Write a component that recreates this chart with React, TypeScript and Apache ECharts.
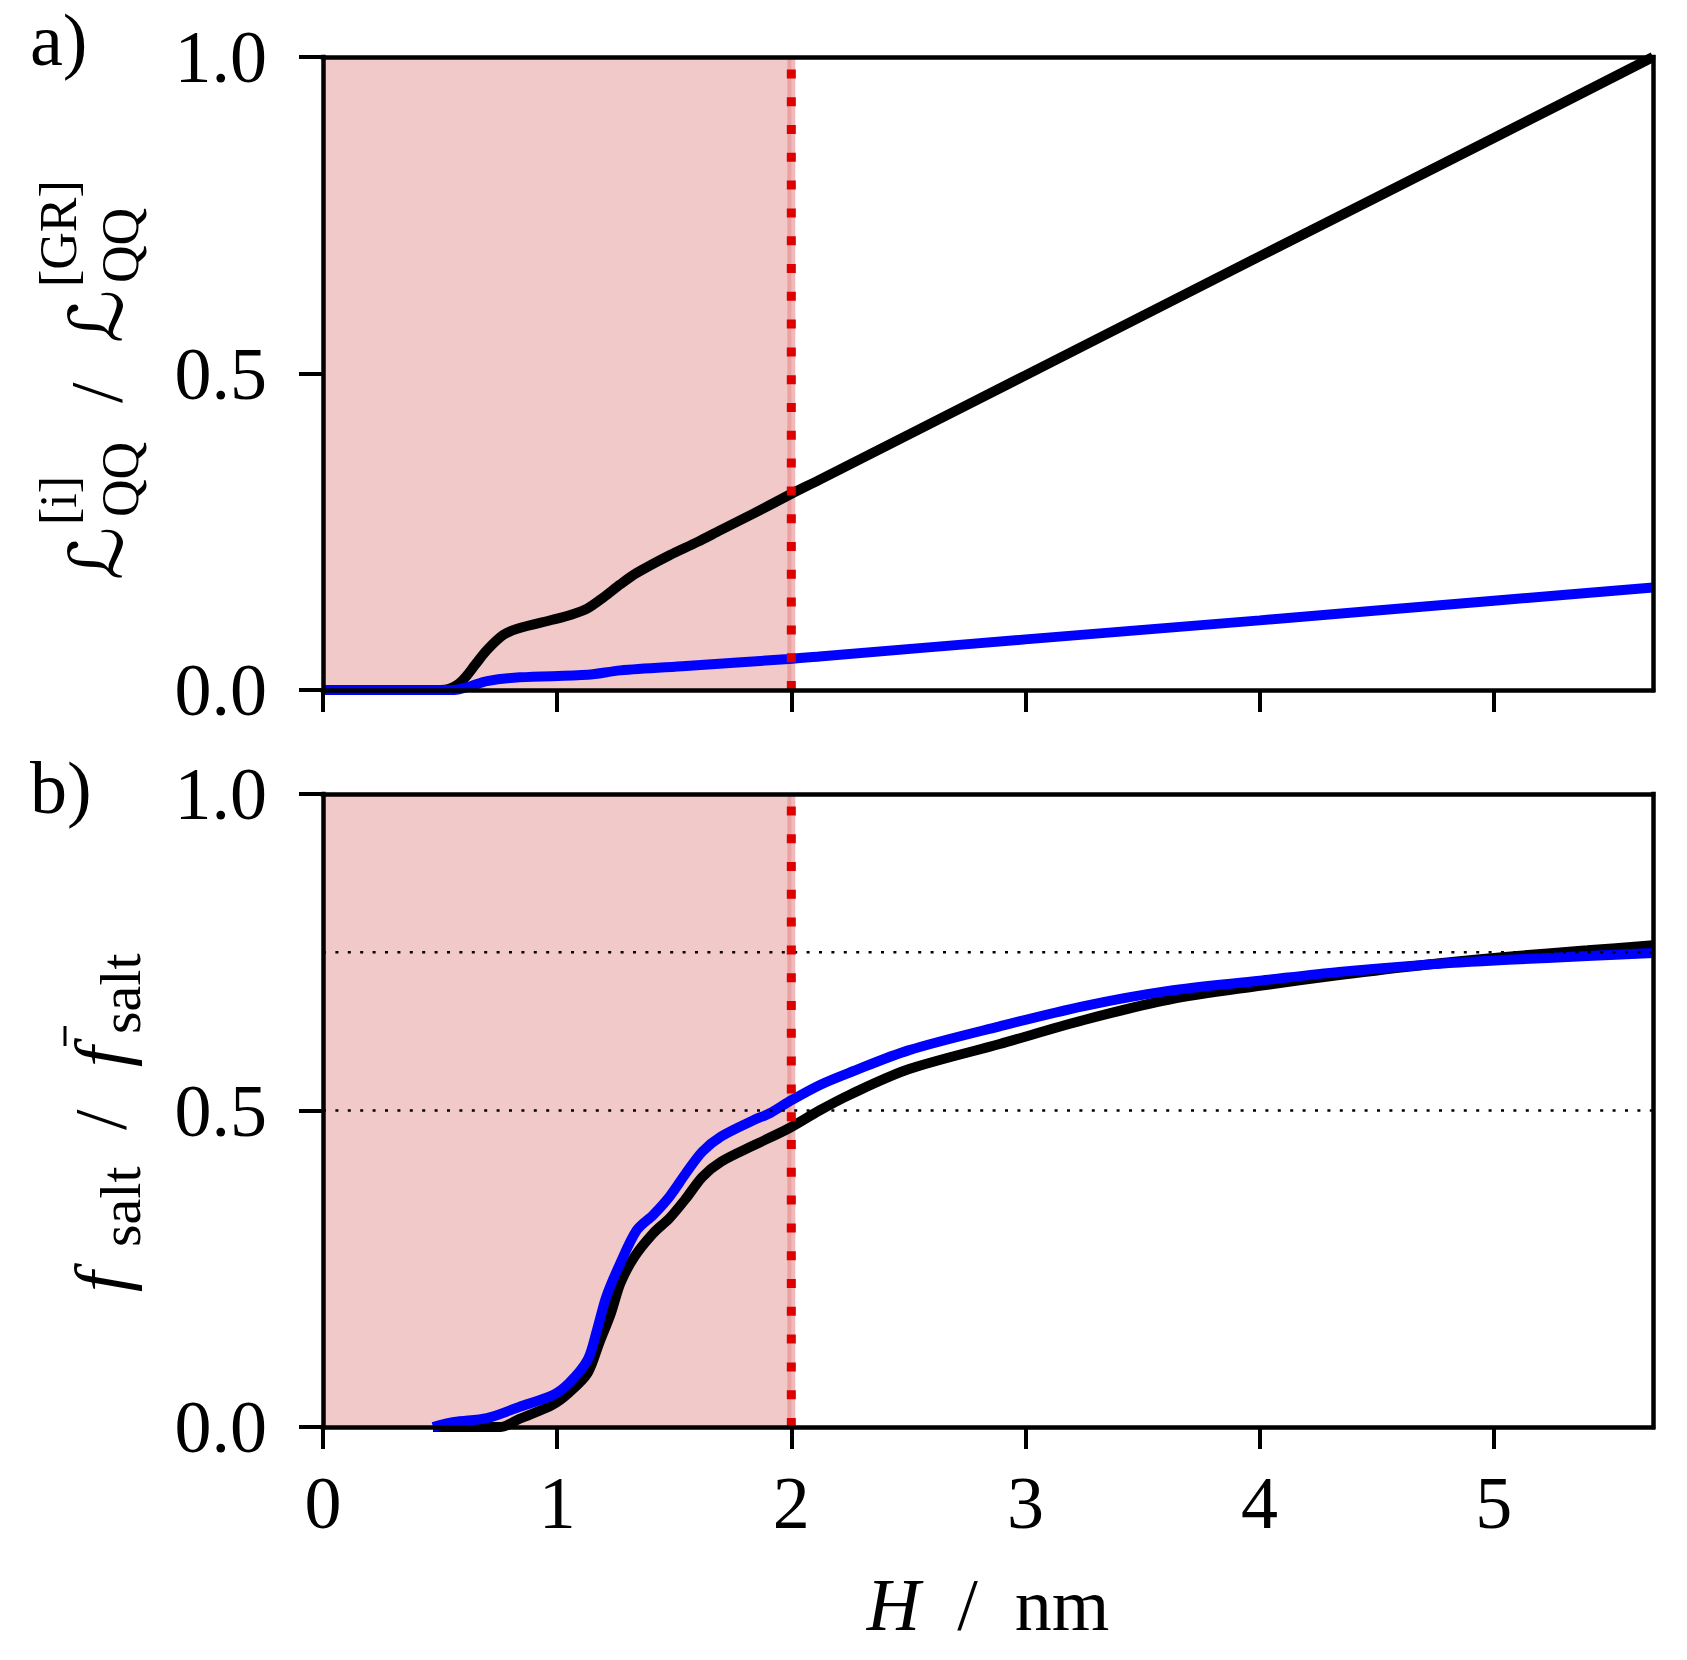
import React, { useEffect, useRef } from 'react';
import * as echarts from 'echarts';

const FONT = "'Liberation Serif', 'Times New Roman', 'DejaVu Serif', 'DejaVu Sans', serif";

// axes
const X_MAX = 5.68;
const xTicks = [0, 1, 2, 3, 4, 5];
const yMin = 0;
const yMax = 1;
const yInterval = 0.5;

// shaded region and reference lines
const shadeX = [0, 2];
const shadeY = [1, 1];
const vLineX = [2, 2];
const vLineY = [0, 1];
const hLinesB = [0.5, 0.75];

// panel a)  L_QQ^[i] / L_QQ^[GR]
const aBlackH = [0, 0.5, 0.54, 0.58, 0.61, 0.65, 0.70, 0.77, 0.84, 0.98, 1.06, 1.13, 1.20, 1.27, 1.34, 1.48, 1.60, 1.70, 1.84, 1.99, 2.12, 3.0, 4.0, 5.0, 5.68];
const aBlackV = [0, 0, 0.002, 0.01, 0.021, 0.04, 0.063, 0.087, 0.098, 0.111, 0.119, 0.129, 0.147, 0.167, 0.185, 0.213, 0.234, 0.253, 0.279, 0.308, 0.332, 0.497, 0.685, 0.872, 1.0];
const aBlueH = [0, 0.56, 0.63, 0.70, 0.84, 1.13, 1.27, 1.55, 1.99, 2.12, 3.0, 4.0, 5.0, 5.68];
const aBlueV = [0, 0, 0.006, 0.014, 0.020, 0.024, 0.031, 0.038, 0.049, 0.053, 0.080, 0.110, 0.141, 0.162];

// panel b)  f_salt / f̄_salt
const bBlackH = [0.47, 0.76, 0.84, 0.98, 1.05, 1.13, 1.18, 1.23, 1.27, 1.33, 1.41, 1.48, 1.55, 1.62, 1.70, 1.84, 1.99, 2.12, 2.25, 2.5, 2.89, 3.25, 3.61, 4.0, 4.34, 4.70, 5.06, 5.4, 5.68];
const bBlackV = [0, 0, 0.013, 0.035, 0.054, 0.085, 0.133, 0.18, 0.227, 0.269, 0.306, 0.330, 0.361, 0.395, 0.419, 0.445, 0.472, 0.50, 0.525, 0.565, 0.605, 0.643, 0.675, 0.697, 0.714, 0.73, 0.743, 0.753, 0.761];
const bBlueH = [0.47, 0.56, 0.70, 0.84, 0.98, 1.05, 1.13, 1.17, 1.21, 1.27, 1.34, 1.41, 1.48, 1.55, 1.62, 1.70, 1.84, 1.91, 1.99, 2.12, 2.25, 2.5, 2.89, 3.25, 3.61, 4.0, 4.34, 4.70, 5.06, 5.4, 5.68];
const bBlueV = [0, 0.008, 0.014, 0.032, 0.050, 0.069, 0.106, 0.153, 0.206, 0.259, 0.311, 0.335, 0.364, 0.401, 0.435, 0.459, 0.485, 0.496, 0.514, 0.540, 0.56, 0.595, 0.633, 0.665, 0.689, 0.705, 0.719, 0.73, 0.738, 0.744, 0.749];

const zip = (xs: number[], ys: number[]) => xs.map((x, i) => [x, ys[i]]);

const spine = { color: '#000', width: 4.5, cap: 'square' as const };

function bottomX(gridIndex: number, showLabels: boolean, withName: boolean) {
  return {
    type: 'value', gridIndex, min: 0, max: X_MAX, position: 'bottom', z: 10,
    axisLine: { show: true, onZero: false, lineStyle: spine },
    axisTick: { show: true, inside: false, length: 22, customValues: xTicks, lineStyle: { color: '#000', width: 4 } },
    axisLabel: {
      show: showLabels, customValues: xTicks, margin: 39, fontSize: 74, fontFamily: FONT, color: '#000',
      formatter: (v: number) => String(v),
    },
    splitLine: { show: false },
    name: withName ? '{it|H}\u2002/\u2002nm' : '',
    nameLocation: 'middle',
    nameGap: 141,
    nameTextStyle: {
      fontSize: 74, fontFamily: FONT, color: '#000', lineHeight: 74,
      rich: { it: { fontSize: 74, fontFamily: FONT, fontStyle: 'italic', color: '#000', lineHeight: 74 } },
    },
  };
}
function topX(gridIndex: number) {
  return {
    type: 'value', gridIndex, min: 0, max: X_MAX, position: 'top', z: 10,
    axisLine: { show: true, onZero: false, lineStyle: spine },
    axisTick: { show: false }, axisLabel: { show: false }, splitLine: { show: false },
  };
}
function leftY(gridIndex: number) {
  return {
    type: 'value', gridIndex, min: yMin, max: yMax, interval: yInterval, position: 'left', z: 10,
    axisLine: { show: true, onZero: false, lineStyle: spine },
    axisTick: { show: true, inside: false, length: 24, lineStyle: { color: '#000', width: 4 } },
    axisLabel: { margin: 56, fontSize: 74, fontFamily: FONT, color: '#000', formatter: (v: number) => v.toFixed(1) },
    splitLine: { show: false },
  };
}
function rightY(gridIndex: number) {
  return {
    type: 'value', gridIndex, min: yMin, max: yMax, position: 'right', z: 10,
    axisLine: { show: true, onZero: false, lineStyle: spine },
    axisTick: { show: false }, axisLabel: { show: false }, splitLine: { show: false },
  };
}

function line(name: string, xi: number, data: number[][], color: string, width: number, z: number, extra: any = {}) {
  return {
    name, type: 'line', xAxisIndex: xi, yAxisIndex: xi, data, z,
    showSymbol: false, symbol: 'none', silent: true, clip: true,
    lineStyle: { color, width, ...(extra.lineStyle || {}) },
    emphasis: { disabled: true },
    ...(extra.smooth !== undefined ? { smooth: extra.smooth } : {}),
    ...(extra.areaStyle ? { areaStyle: extra.areaStyle } : {}),
  };
}

function panelSeries(xi: number, black: number[][], blue: number[][], hLines: number[]) {
  const s: any[] = [];
  s.push(line('shade', xi, zip(shadeX, shadeY), '#f1c9c9', 0, 1, {
    areaStyle: { color: '#f1c9c9', opacity: 1, origin: 'start' },
  }));
  s.push(line('vband', xi, zip(vLineX, vLineY), 'rgba(228,130,130,0.55)', 8, 2));
  s.push(line('black', xi, black, '#000000', 10, 3, { smooth: 0.3 }));
  s.push(line('blue', xi, blue, '#0000ff', 10, 4, { smooth: 0.3 }));
  hLines.forEach((h) => {
    s.push(line('hline', xi, [[0, h], [X_MAX, h]], '#000000', 2.6, 5, { lineStyle: { type: [3, 9.4], cap: 'butt' } }));
  });
  s.push(line('vdot', xi, zip(vLineX, vLineY), '#dd0000', 9, 6, { lineStyle: { type: [9, 18.8], cap: 'butt' } }));
  return s;
}

function txt(text: string, x: number, y: number, fontSize: number, italic = false) {
  return {
    type: 'text', x, y, silent: true,
    style: {
      text, fontSize, fontFamily: FONT, fontStyle: italic ? 'italic' : 'normal', fill: '#000',
      textAlign: 'left', align: 'left', textVerticalAlign: 'middle', verticalAlign: 'middle',
    },
  };
}

const M = 74; // main font
const S = 52; // script font

const labelA = {
  type: 'group', x: 122, y: 580, rotation: Math.PI / 2, silent: true,
  children: [
    txt('ℒ', 0, -25, M),
    txt('QQ', 63, 16 - 0.3375 * S, S),
    txt('[i]', 55, -46 - 0.3375 * S, S),
    txt('/', 177, -25, M),
    txt('ℒ', 237, -25, M),
    txt('QQ', 297, 16 - 0.3375 * S, S),
    txt('[GR]', 293, -46 - 0.3375 * S, S),
  ],
};

const S2 = 58;
const labelB = {
  type: 'group', x: 126, y: 1292, rotation: Math.PI / 2, silent: true,
  children: [
    txt('f', 0, -25, M, true),
    txt('salt', 45, 14 - 0.3375 * S2, S2),
    txt('/', 162, -25, M),
    txt('f', 225, -25, M, true),
    { type: 'line', silent: true, shape: { x1: 246, y1: -61, x2: 266, y2: -61 }, style: { stroke: '#000', lineWidth: 3 } },
    txt('salt', 258, 14 - 0.3375 * S2, S2),
  ],
};

const option: any = {
  animation: false,
  backgroundColor: '#ffffff',
  grid: [
    { left: 323, top: 57, width: 1330, height: 633, containLabel: false },
    { left: 323, top: 794, width: 1330, height: 633, containLabel: false },
  ],
  xAxis: [bottomX(0, false, false), topX(0), bottomX(1, true, true), topX(1)],
  yAxis: [leftY(0), rightY(0), leftY(1), rightY(1)],
  series: [
    ...panelSeries(0, zip(aBlackH, aBlackV), zip(aBlueH, aBlueV), []),
    ...panelSeries(2, zip(bBlackH, bBlackV), zip(bBlueH, bBlueV), hLinesB),
  ],
  graphic: [
    txt('a)', 30, 40, M),
    txt('b)', 30, 788, M),
    labelA,
    labelB,
  ],
};

export default function App() {
  const ref = useRef<HTMLDivElement>(null);
  useEffect(() => {
    const chart = echarts.init(ref.current!, null, { renderer: 'svg' });
    chart.setOption(option);
    return () => chart.dispose();
  }, []);
  return (
    <div
      ref={ref}
      style={{ position: 'fixed', left: 0, top: 0, width: 1687, height: 1660, background: '#fff' }}
    />
  );
}
